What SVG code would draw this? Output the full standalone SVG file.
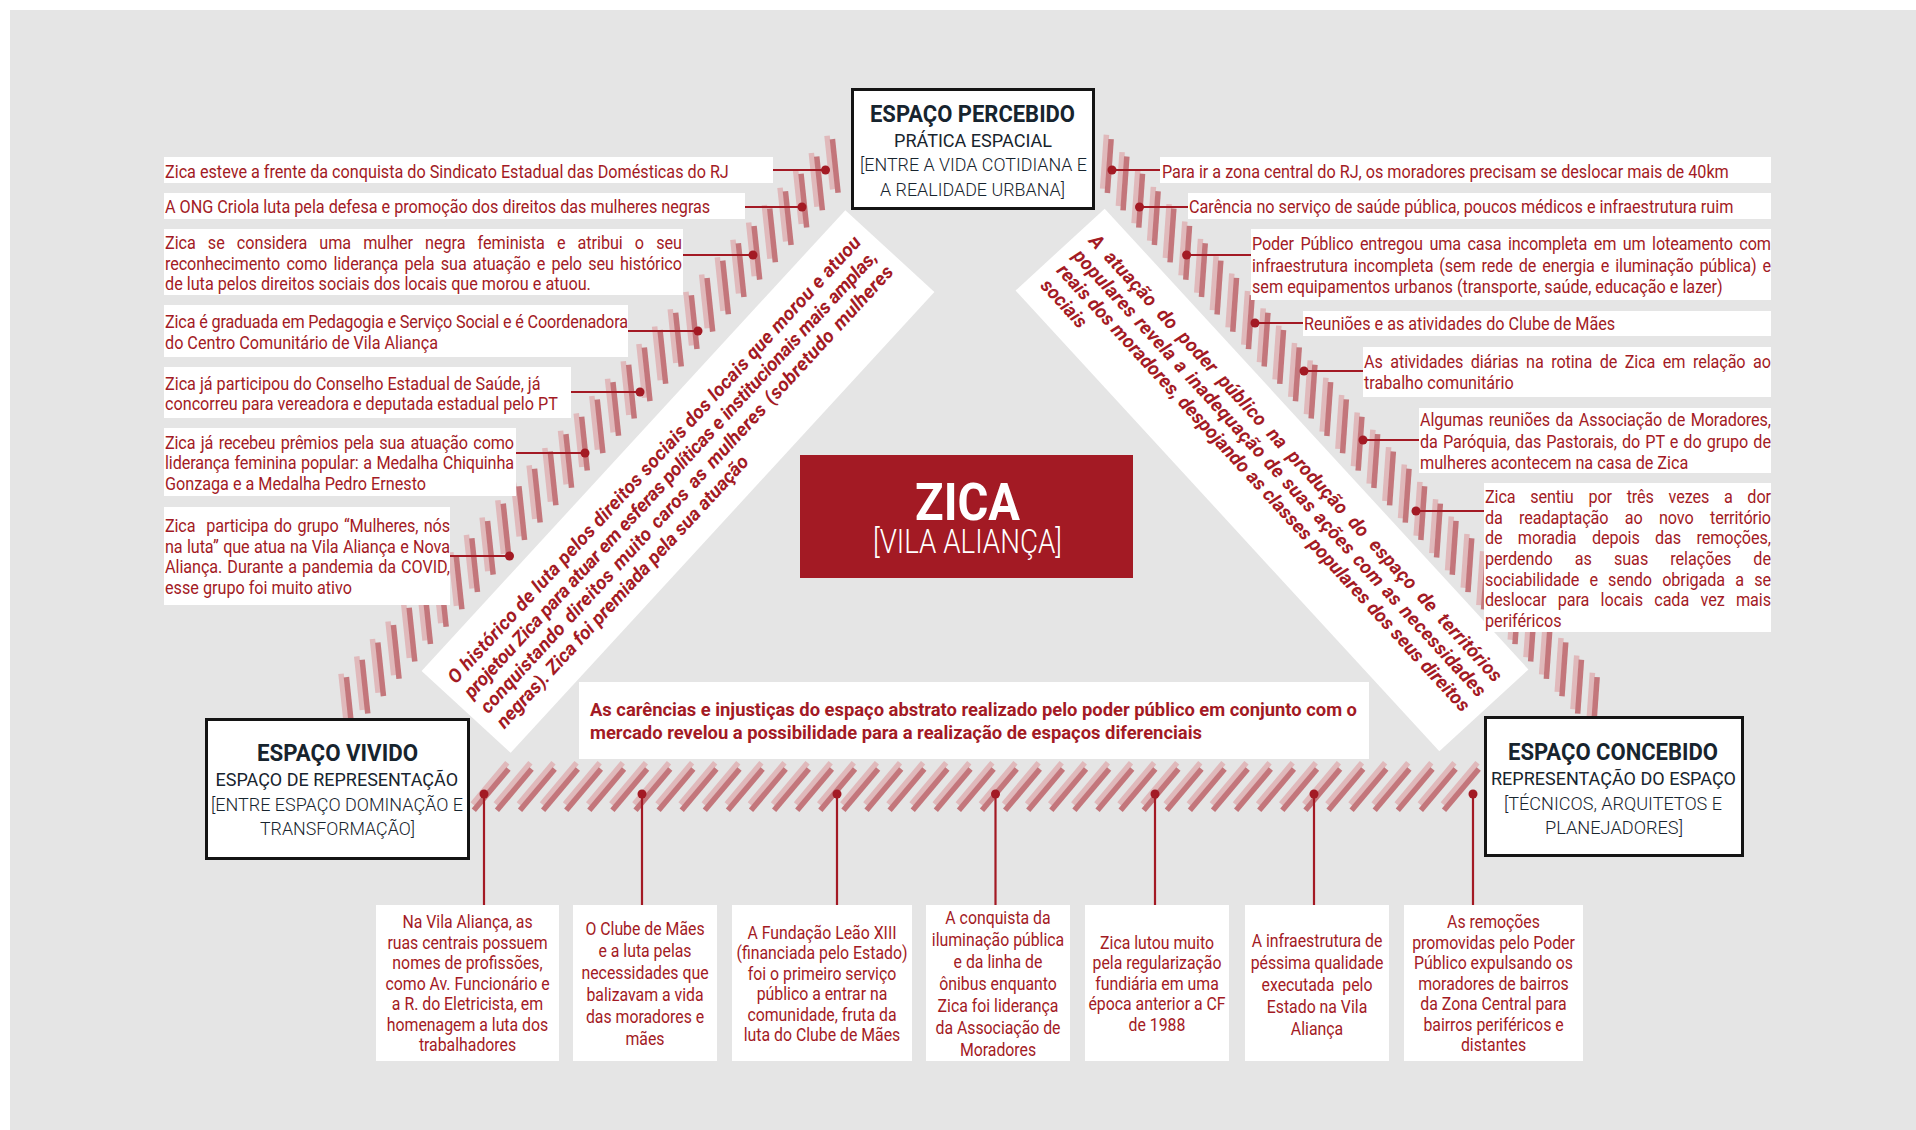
<svg xmlns="http://www.w3.org/2000/svg" width="1916" height="1130" viewBox="0 0 1916 1130">
<defs>
<style>
.t{font-family:Roboto,'Liberation Sans',sans-serif;font-size:18px;fill:#a31a24}
.c{text-anchor:middle}
.bi{font-family:Roboto,'Liberation Sans',sans-serif;font-size:19px;font-weight:700;font-style:italic;fill:#a31a24}
.ct{font-family:Roboto,'Liberation Sans',sans-serif;font-size:18px;font-weight:700;fill:#a31a24}
.hd{font-family:Roboto,'Liberation Sans',sans-serif;fill:#17242e}
.h1{font-size:24px;font-weight:700}
.h2{font-size:18px;font-weight:400}
.h3{font-size:18px;font-weight:300}
.card{fill:#fff}
.frame{fill:#fff;stroke:#141414;stroke-width:3}
.ln{stroke:#a31a24;stroke-width:2.2;fill:none}
.dot{fill:#a31a24}
.pre{white-space:pre}
</style>
<g id="bar"><rect x="-7.5" y="-31" width="5.5" height="54" fill="#e0b9bb"/><rect x="-2.5" y="-27" width="5.5" height="54" fill="#c3767b"/></g>
</defs>

<rect x="10" y="10" width="1906" height="1120" fill="#e5e5e5"/>

<!-- hatched bands -->
<g id="hatch-left">
<use href="#bar" transform="translate(835,166) rotate(-6)"/>
<use href="#bar" transform="translate(819.3,183.4) rotate(-6)"/>
<use href="#bar" transform="translate(803.6,200.7) rotate(-6)"/>
<use href="#bar" transform="translate(788,218.1) rotate(-6)"/>
<use href="#bar" transform="translate(772.3,235.4) rotate(-6)"/>
<use href="#bar" transform="translate(756.6,252.8) rotate(-6)"/>
<use href="#bar" transform="translate(740.9,270.1) rotate(-6)"/>
<use href="#bar" transform="translate(725.3,287.5) rotate(-6)"/>
<use href="#bar" transform="translate(709.6,304.8) rotate(-6)"/>
<use href="#bar" transform="translate(693.9,322.2) rotate(-6)"/>
<use href="#bar" transform="translate(678.2,339.6) rotate(-6)"/>
<use href="#bar" transform="translate(662.6,356.9) rotate(-6)"/>
<use href="#bar" transform="translate(646.9,374.3) rotate(-6)"/>
<use href="#bar" transform="translate(631.2,391.6) rotate(-6)"/>
<use href="#bar" transform="translate(615.5,409) rotate(-6)"/>
<use href="#bar" transform="translate(599.8,426.3) rotate(-6)"/>
<use href="#bar" transform="translate(584.2,443.7) rotate(-6)"/>
<use href="#bar" transform="translate(568.5,461) rotate(-6)"/>
<use href="#bar" transform="translate(552.8,478.4) rotate(-6)"/>
<use href="#bar" transform="translate(537.1,495.7) rotate(-6)"/>
<use href="#bar" transform="translate(521.5,513.1) rotate(-6)"/>
<use href="#bar" transform="translate(505.8,530.5) rotate(-6)"/>
<use href="#bar" transform="translate(490.1,547.8) rotate(-6)"/>
<use href="#bar" transform="translate(474.4,565.2) rotate(-6)"/>
<use href="#bar" transform="translate(458.8,582.5) rotate(-6)"/>
<use href="#bar" transform="translate(443.1,599.9) rotate(-6)"/>
<use href="#bar" transform="translate(427.4,617.2) rotate(-6)"/>
<use href="#bar" transform="translate(411.7,634.6) rotate(-6)"/>
<use href="#bar" transform="translate(396,651.9) rotate(-6)"/>
<use href="#bar" transform="translate(380.4,669.3) rotate(-6)"/>
<use href="#bar" transform="translate(364.7,686.7) rotate(-6)"/>
<use href="#bar" transform="translate(349,704) rotate(-6)"/>
</g>
<g id="hatch-right">
<use href="#bar" transform="translate(1109,166) rotate(4)"/>
<use href="#bar" transform="translate(1124.7,183.4) rotate(4)"/>
<use href="#bar" transform="translate(1140.4,200.7) rotate(4)"/>
<use href="#bar" transform="translate(1156,218.1) rotate(4)"/>
<use href="#bar" transform="translate(1171.7,235.4) rotate(4)"/>
<use href="#bar" transform="translate(1187.4,252.8) rotate(4)"/>
<use href="#bar" transform="translate(1203.1,270.1) rotate(4)"/>
<use href="#bar" transform="translate(1218.7,287.5) rotate(4)"/>
<use href="#bar" transform="translate(1234.4,304.8) rotate(4)"/>
<use href="#bar" transform="translate(1250.1,322.2) rotate(4)"/>
<use href="#bar" transform="translate(1265.8,339.6) rotate(4)"/>
<use href="#bar" transform="translate(1281.4,356.9) rotate(4)"/>
<use href="#bar" transform="translate(1297.1,374.3) rotate(4)"/>
<use href="#bar" transform="translate(1312.8,391.6) rotate(4)"/>
<use href="#bar" transform="translate(1328.5,409) rotate(4)"/>
<use href="#bar" transform="translate(1344.2,426.3) rotate(4)"/>
<use href="#bar" transform="translate(1359.8,443.7) rotate(4)"/>
<use href="#bar" transform="translate(1375.5,461) rotate(4)"/>
<use href="#bar" transform="translate(1391.2,478.4) rotate(4)"/>
<use href="#bar" transform="translate(1406.9,495.7) rotate(4)"/>
<use href="#bar" transform="translate(1422.5,513.1) rotate(4)"/>
<use href="#bar" transform="translate(1438.2,530.5) rotate(4)"/>
<use href="#bar" transform="translate(1453.9,547.8) rotate(4)"/>
<use href="#bar" transform="translate(1469.6,565.2) rotate(4)"/>
<use href="#bar" transform="translate(1485.2,582.5) rotate(4)"/>
<use href="#bar" transform="translate(1500.9,599.9) rotate(4)"/>
<use href="#bar" transform="translate(1516.6,617.2) rotate(4)"/>
<use href="#bar" transform="translate(1532.3,634.6) rotate(4)"/>
<use href="#bar" transform="translate(1548,651.9) rotate(4)"/>
<use href="#bar" transform="translate(1563.6,669.3) rotate(4)"/>
<use href="#bar" transform="translate(1579.3,686.7) rotate(4)"/>
<use href="#bar" transform="translate(1595,704) rotate(4)"/>
</g>
<g id="hatch-bottom">
<use href="#bar" transform="translate(491,789.5) rotate(40)"/>
<use href="#bar" transform="translate(514.1,789.5) rotate(40)"/>
<use href="#bar" transform="translate(537.2,789.5) rotate(40)"/>
<use href="#bar" transform="translate(560.3,789.5) rotate(40)"/>
<use href="#bar" transform="translate(583.4,789.5) rotate(40)"/>
<use href="#bar" transform="translate(606.5,789.5) rotate(40)"/>
<use href="#bar" transform="translate(629.6,789.5) rotate(40)"/>
<use href="#bar" transform="translate(652.7,789.5) rotate(40)"/>
<use href="#bar" transform="translate(675.8,789.5) rotate(40)"/>
<use href="#bar" transform="translate(698.9,789.5) rotate(40)"/>
<use href="#bar" transform="translate(722,789.5) rotate(40)"/>
<use href="#bar" transform="translate(745.1,789.5) rotate(40)"/>
<use href="#bar" transform="translate(768.2,789.5) rotate(40)"/>
<use href="#bar" transform="translate(791.3,789.5) rotate(40)"/>
<use href="#bar" transform="translate(814.4,789.5) rotate(40)"/>
<use href="#bar" transform="translate(837.5,789.5) rotate(40)"/>
<use href="#bar" transform="translate(860.6,789.5) rotate(40)"/>
<use href="#bar" transform="translate(883.7,789.5) rotate(40)"/>
<use href="#bar" transform="translate(906.8,789.5) rotate(40)"/>
<use href="#bar" transform="translate(929.9,789.5) rotate(40)"/>
<use href="#bar" transform="translate(953,789.5) rotate(40)"/>
<use href="#bar" transform="translate(976.1,789.5) rotate(40)"/>
<use href="#bar" transform="translate(999.2,789.5) rotate(40)"/>
<use href="#bar" transform="translate(1022.3,789.5) rotate(40)"/>
<use href="#bar" transform="translate(1045.4,789.5) rotate(40)"/>
<use href="#bar" transform="translate(1068.5,789.5) rotate(40)"/>
<use href="#bar" transform="translate(1091.6,789.5) rotate(40)"/>
<use href="#bar" transform="translate(1114.7,789.5) rotate(40)"/>
<use href="#bar" transform="translate(1137.8,789.5) rotate(40)"/>
<use href="#bar" transform="translate(1160.9,789.5) rotate(40)"/>
<use href="#bar" transform="translate(1184,789.5) rotate(40)"/>
<use href="#bar" transform="translate(1207.1,789.5) rotate(40)"/>
<use href="#bar" transform="translate(1230.2,789.5) rotate(40)"/>
<use href="#bar" transform="translate(1253.3,789.5) rotate(40)"/>
<use href="#bar" transform="translate(1276.4,789.5) rotate(40)"/>
<use href="#bar" transform="translate(1299.5,789.5) rotate(40)"/>
<use href="#bar" transform="translate(1322.6,789.5) rotate(40)"/>
<use href="#bar" transform="translate(1345.7,789.5) rotate(40)"/>
<use href="#bar" transform="translate(1368.8,789.5) rotate(40)"/>
<use href="#bar" transform="translate(1391.9,789.5) rotate(40)"/>
<use href="#bar" transform="translate(1415,789.5) rotate(40)"/>
<use href="#bar" transform="translate(1438.1,789.5) rotate(40)"/>
<use href="#bar" transform="translate(1461.2,789.5) rotate(40)"/>
</g>

<!-- diagonal statements -->
<g id="band-left" transform="translate(678,481.5) rotate(-47.4)">
<rect x="-313" y="-60.5" width="626" height="121" fill="#fff"/>
<text class="bi" x="-300" y="-26" textLength="600" lengthAdjust="spacing">O histórico de luta pelos direitos sociais dos locais que morou e atuou</text>
<text class="bi" x="-300" y="-4" textLength="600" lengthAdjust="spacing">projetou Zica para atuar em esferas políticas e institucionais mais amplas,</text>
<text class="bi" x="-300" y="18" textLength="600" lengthAdjust="spacing" style="word-spacing:2.5px">conquistando direitos muito caros as mulheres (sobretudo mulheres</text>
<text class="bi" x="-300" y="40">negras). Zica foi premiada pela sua atuação</text>
</g>
<g id="band-right" transform="translate(1272,480) rotate(47.4)">
<rect x="-313" y="-60.5" width="626" height="121" fill="#fff"/>
<text class="bi" x="-300" y="-26" textLength="600" lengthAdjust="spacing" style="word-spacing:4.8px">A atuação do poder público na produção do espaço de territórios</text>
<text class="bi" x="-300" y="-4" textLength="600" lengthAdjust="spacing" style="word-spacing:1.5px">populares revela a inadequação de suas ações com as necessidades</text>
<text class="bi" x="-300" y="18" textLength="600" lengthAdjust="spacing">reais dos moradores, despojando as classes populares dos seus direitos</text>
<text class="bi" x="-300" y="40">sociais</text>
</g>

<!-- centre -->
<g id="zica">
<rect x="800" y="455" width="333" height="123" fill="#a31a24"/>
<text x="915" y="520" textLength="105" lengthAdjust="spacingAndGlyphs" style="font-family:Roboto,'Liberation Sans',sans-serif;font-size:52px;font-weight:700;fill:#fff">ZICA</text>
<text x="873" y="553" textLength="189" lengthAdjust="spacingAndGlyphs" style="font-family:Roboto,'Liberation Sans',sans-serif;font-size:33px;font-weight:300;fill:#fff">[VILA ALIANÇA]</text>
</g>
<g id="abstract-space">
<rect class="card" x="579" y="682" width="790" height="77"/>
<text class="ct" x="590" y="716" textLength="767" lengthAdjust="spacingAndGlyphs">As carências e injustiças do espaço abstrato realizado pelo poder público em conjunto com o</text>
<text class="ct" x="590" y="739" textLength="612" lengthAdjust="spacingAndGlyphs">mercado revelou a possibilidade para a realização de espaços diferenciais</text>
</g>

<!-- corner boxes -->
<g id="percebido">
<rect class="frame" x="852.5" y="89.5" width="241" height="119"/>
<text class="hd h1" x="870" y="121.5" textLength="205" lengthAdjust="spacingAndGlyphs">ESPAÇO PERCEBIDO</text>
<text class="hd h2" x="894" y="146.5" textLength="158" lengthAdjust="spacingAndGlyphs">PRÁTICA ESPACIAL</text>
<text class="hd h3" x="860" y="171" textLength="227" lengthAdjust="spacingAndGlyphs">[ENTRE A VIDA COTIDIANA E</text>
<text class="hd h3" x="880" y="195.5" textLength="185" lengthAdjust="spacingAndGlyphs">A REALIDADE URBANA]</text>
</g>
<g id="vivido">
<rect class="frame" x="206.5" y="719.5" width="262" height="139"/>
<text class="hd h1" x="257" y="761" textLength="161" lengthAdjust="spacingAndGlyphs">ESPAÇO VIVIDO</text>
<text class="hd h2" x="215.5" y="786" textLength="242.5" lengthAdjust="spacingAndGlyphs">ESPAÇO DE REPRESENTAÇÃO</text>
<text class="hd h3" x="211" y="811" textLength="252" lengthAdjust="spacingAndGlyphs">[ENTRE ESPAÇO DOMINAÇÃO E</text>
<text class="hd h3" x="260" y="835" textLength="155" lengthAdjust="spacingAndGlyphs">TRANSFORMAÇÃO]</text>
</g>
<g id="concebido">
<rect class="frame" x="1485.5" y="717.5" width="257" height="138"/>
<text class="hd h1" x="1508" y="760" textLength="210" lengthAdjust="spacingAndGlyphs">ESPAÇO CONCEBIDO</text>
<text class="hd h2" x="1491" y="785" textLength="245" lengthAdjust="spacingAndGlyphs">REPRESENTAÇÃO DO ESPAÇO</text>
<text class="hd h3" x="1504" y="810" textLength="218" lengthAdjust="spacingAndGlyphs">[TÉCNICOS, ARQUITETOS E</text>
<text class="hd h3" x="1545" y="834" textLength="138" lengthAdjust="spacingAndGlyphs">PLANEJADORES]</text>
</g>

<!-- left notes -->
<g id="note-l1"><rect class="card" x="164" y="157" width="609" height="26"/>
<text class="t" transform="translate(165,177.5) scale(.9,1)">Zica esteve a frente da conquista do Sindicato Estadual das Domésticas do RJ</text></g>
<g id="note-l2"><rect class="card" x="164" y="193" width="581" height="26"/>
<text class="t" transform="translate(165,213) scale(.9,1)">A ONG Criola luta pela defesa e promoção dos direitos das mulheres negras</text></g>
<g id="note-l3"><rect class="card" x="164" y="229" width="519" height="66"/>
<text class="t" transform="translate(165,248.5) scale(.9,1)" textLength="574.4" lengthAdjust="spacing" style="word-spacing:9px">Zica se considera uma mulher negra feminista e atribui o seu</text>
<text class="t" transform="translate(165,269.5) scale(.9,1)" textLength="574.4" lengthAdjust="spacing" style="word-spacing:2.6px">reconhecimento como liderança pela sua atuação e pelo seu histórico</text>
<text class="t" transform="translate(165,289.5) scale(.9,1)">de luta pelos direitos sociais dos locais que morou e atuou.</text></g>
<g id="note-l4"><rect class="card" x="164" y="305" width="464" height="52"/>
<text class="t" transform="translate(165,327.5) scale(.9,1)" textLength="514.4" lengthAdjust="spacing">Zica é graduada em Pedagogia e Serviço Social e é Coordenadora</text>
<text class="t" transform="translate(165,348.5) scale(.9,1)">do Centro Comunitário de Vila Aliança</text></g>
<g id="note-l5"><rect class="card" x="164" y="367" width="407" height="51"/>
<text class="t" transform="translate(165,390) scale(.9,1)">Zica já participou do Conselho Estadual de Saúde, já</text>
<text class="t" transform="translate(165,410) scale(.9,1)">concorreu para vereadora e deputada estadual pelo PT</text></g>
<g id="note-l6"><rect class="card" x="164" y="428" width="352" height="68"/>
<text class="t" transform="translate(165,448.5) scale(.9,1)" textLength="387.8" lengthAdjust="spacing" style="word-spacing:1.8px">Zica já recebeu prêmios pela sua atuação como</text>
<text class="t" transform="translate(165,468.5) scale(.9,1)" textLength="387.8" lengthAdjust="spacing" style="word-spacing:0.8px">liderança feminina popular: a Medalha Chiquinha</text>
<text class="t" transform="translate(165,489.5) scale(.9,1)">Gonzaga e a Medalha Pedro Ernesto</text></g>
<g id="note-l7"><rect class="card" x="164" y="507" width="286" height="98"/>
<text class="t pre" transform="translate(165,531.5) scale(.9,1)" textLength="316.7" lengthAdjust="spacing" style="word-spacing:1.8px">Zica  participa do grupo “Mulheres, nós</text>
<text class="t" transform="translate(165,552.5) scale(.9,1)" textLength="316.7" lengthAdjust="spacing" style="word-spacing:0.5px">na luta” que atua na Vila Aliança e Nova</text>
<text class="t" transform="translate(165,572.5) scale(.9,1)" textLength="316.7" lengthAdjust="spacing" style="word-spacing:1.2px">Aliança. Durante a pandemia da COVID,</text>
<text class="t" transform="translate(165,593.5) scale(.9,1)">esse grupo foi muito ativo</text></g>

<!-- right notes -->
<g id="note-r1"><rect class="card" x="1160" y="157" width="611" height="26"/>
<text class="t" transform="translate(1162,177.5) scale(.9,1)">Para ir a zona central do RJ, os moradores precisam se deslocar mais de 40km</text></g>
<g id="note-r2"><rect class="card" x="1188" y="193" width="583" height="26"/>
<text class="t" transform="translate(1189,213) scale(.9,1)">Carência no serviço de saúde pública, poucos médicos e infraestrutura ruim</text></g>
<g id="note-r3"><rect class="card" x="1251" y="229" width="520" height="71"/>
<text class="t" transform="translate(1252,249.5) scale(.9,1)" textLength="576.7" lengthAdjust="spacing" style="word-spacing:2.9px">Poder Público entregou uma casa incompleta em um loteamento com</text>
<text class="t" transform="translate(1252,271.5) scale(.9,1)" textLength="576.7" lengthAdjust="spacing" style="word-spacing:2.3px">infraestrutura incompleta (sem rede de energia e iluminação pública) e</text>
<text class="t" transform="translate(1252,292.5) scale(.9,1)">sem equipamentos urbanos (transporte, saúde, educação e lazer)</text></g>
<g id="note-r4"><rect class="card" x="1303" y="311" width="468" height="25"/>
<text class="t" transform="translate(1304,329.5) scale(.9,1)">Reuniões e as atividades do Clube de Mães</text></g>
<g id="note-r5"><rect class="card" x="1363" y="347" width="408" height="50"/>
<text class="t" transform="translate(1364,367.5) scale(.9,1)" textLength="452.2" lengthAdjust="spacing" style="word-spacing:4px">As atividades diárias na rotina de Zica em relação ao</text>
<text class="t" transform="translate(1364,389) scale(.9,1)">trabalho comunitário</text></g>
<g id="note-r6"><rect class="card" x="1419" y="408" width="352" height="65"/>
<text class="t" transform="translate(1420,425.5) scale(.9,1)" textLength="390" lengthAdjust="spacing" style="word-spacing:1.8px">Algumas reuniões da Associação de Moradores,</text>
<text class="t" transform="translate(1420,447.5) scale(.9,1)" textLength="390" lengthAdjust="spacing" style="word-spacing:1.2px">da Paróquia, das Pastorais, do PT e do grupo de</text>
<text class="t" transform="translate(1420,468.5) scale(.9,1)">mulheres acontecem na casa de Zica</text></g>
<g id="note-r7"><rect class="card" x="1484" y="483" width="287" height="149"/>
<text class="t" transform="translate(1485,502.5) scale(.9,1)" textLength="317.8" lengthAdjust="spacing" style="word-spacing:12px">Zica sentiu por três vezes a dor</text>
<text class="t" transform="translate(1485,523.5) scale(.9,1)" textLength="317.8" lengthAdjust="spacing" style="word-spacing:13.8px">da readaptação ao novo território</text>
<text class="t" transform="translate(1485,543.5) scale(.9,1)" textLength="317.8" lengthAdjust="spacing" style="word-spacing:12.6px">de moradia depois das remoções,</text>
<text class="t" transform="translate(1485,564.5) scale(.9,1)" textLength="317.8" lengthAdjust="spacing" style="word-spacing:20px">perdendo as suas relações de</text>
<text class="t" transform="translate(1485,585.5) scale(.9,1)" textLength="317.8" lengthAdjust="spacing" style="word-spacing:7px">sociabilidade e sendo obrigada a se</text>
<text class="t" transform="translate(1485,605.5) scale(.9,1)" textLength="317.8" lengthAdjust="spacing" style="word-spacing:8.2px">deslocar para locais cada vez mais</text>
<text class="t" transform="translate(1485,626.5) scale(.9,1)">periféricos</text></g>

<!-- bottom notes -->
<g id="note-b1"><rect class="card" x="376" y="905" width="183" height="156"/>
<text class="t c" transform="translate(467.5,0) scale(.88,1)"><tspan x="0" y="928.5">Na Vila Aliança, as</tspan><tspan x="0" y="949">ruas centrais possuem</tspan><tspan x="0" y="969.5">nomes de profissões,</tspan><tspan x="0" y="990">como Av. Funcionário e</tspan><tspan x="0" y="1010.5">a R. do Eletricista, em</tspan><tspan x="0" y="1031">homenagem a luta dos</tspan><tspan x="0" y="1051.5">trabalhadores</tspan></text></g>
<g id="note-b2"><rect class="card" x="573" y="905" width="144" height="156"/>
<text class="t c" transform="translate(645,0) scale(.88,1)"><tspan x="0" y="935">O Clube de Mães</tspan><tspan x="0" y="957">e a luta pelas</tspan><tspan x="0" y="979">necessidades que</tspan><tspan x="0" y="1001">balizavam a vida</tspan><tspan x="0" y="1023">das moradores e</tspan><tspan x="0" y="1045">mães</tspan></text></g>
<g id="note-b3"><rect class="card" x="732" y="905" width="180" height="156"/>
<text class="t c" transform="translate(822,0) scale(.88,1)"><tspan x="0" y="939">A Fundação Leão XIII</tspan><tspan x="0" y="959.5">(financiada pelo Estado)</tspan><tspan x="0" y="980">foi o primeiro serviço</tspan><tspan x="0" y="1000.5">público a entrar na</tspan><tspan x="0" y="1021">comunidade, fruta da</tspan><tspan x="0" y="1041.5">luta do Clube de Mães</tspan></text></g>
<g id="note-b4"><rect class="card" x="926" y="905" width="144" height="156"/>
<text class="t c" transform="translate(998,0) scale(.88,1)"><tspan x="0" y="924">A conquista da</tspan><tspan x="0" y="946">iluminação pública</tspan><tspan x="0" y="968">e da linha de</tspan><tspan x="0" y="990">ônibus enquanto</tspan><tspan x="0" y="1012">Zica foi liderança</tspan><tspan x="0" y="1034">da Associação de</tspan><tspan x="0" y="1056">Moradores</tspan></text></g>
<g id="note-b5"><rect class="card" x="1085" y="905" width="144" height="156"/>
<text class="t c" transform="translate(1157,0) scale(.88,1)"><tspan x="0" y="949">Zica lutou muito</tspan><tspan x="0" y="969.5">pela regularização</tspan><tspan x="0" y="990">fundiária em uma</tspan><tspan x="0" y="1010.5">época anterior a CF</tspan><tspan x="0" y="1031">de 1988</tspan></text></g>
<g id="note-b6"><rect class="card" x="1245" y="905" width="144" height="156"/>
<text class="t c pre" transform="translate(1317,0) scale(.88,1)"><tspan x="0" y="947">A infraestrutura de</tspan><tspan x="0" y="969">péssima qualidade</tspan><tspan x="0" y="991">executada  pelo</tspan><tspan x="0" y="1013">Estado na Vila</tspan><tspan x="0" y="1035">Aliança</tspan></text></g>
<g id="note-b7"><rect class="card" x="1404" y="905" width="179" height="156"/>
<text class="t c" transform="translate(1493.5,0) scale(.88,1)"><tspan x="0" y="928.5">As remoções</tspan><tspan x="0" y="949">promovidas pelo Poder</tspan><tspan x="0" y="969.5">Público expulsando os</tspan><tspan x="0" y="990">moradores de bairros</tspan><tspan x="0" y="1010.5">da Zona Central para</tspan><tspan x="0" y="1031">bairros periféricos e</tspan><tspan x="0" y="1051.5">distantes</tspan></text></g>

<!-- connectors -->
<g id="connectors">
<path class="ln" d="M773 170H825.5M745 207H802M683 255H753M628 331H698M571 392H640M516 453H585M450 556H509.5"/>
<path class="ln" d="M1112 170H1160M1139.5 207H1188M1186.6 255H1251M1255 323H1303M1304 371H1363M1363 440H1419M1416 511H1484"/>
<path class="ln" d="M484 794V905M642 794V905M837 794V905M995.5 794V905M1155 794V905M1314 794V905M1473 794V905"/>
<circle class="dot" cx="825.5" cy="170" r="4.5"/><circle class="dot" cx="802" cy="207" r="4.5"/><circle class="dot" cx="753" cy="255" r="4.5"/><circle class="dot" cx="698" cy="331" r="4.5"/><circle class="dot" cx="640" cy="392" r="4.5"/><circle class="dot" cx="585" cy="453" r="4.5"/><circle class="dot" cx="509.5" cy="556" r="4.5"/>
<circle class="dot" cx="1112" cy="170" r="4.5"/><circle class="dot" cx="1139.5" cy="207" r="4.5"/><circle class="dot" cx="1186.6" cy="255" r="4.5"/><circle class="dot" cx="1255" cy="323" r="4.5"/><circle class="dot" cx="1304" cy="371" r="4.5"/><circle class="dot" cx="1363" cy="440" r="4.5"/><circle class="dot" cx="1416" cy="511" r="4.5"/>
<circle class="dot" cx="484" cy="794" r="4.5"/><circle class="dot" cx="642" cy="794" r="4.5"/><circle class="dot" cx="837" cy="794" r="4.5"/><circle class="dot" cx="995.5" cy="794" r="4.5"/><circle class="dot" cx="1155" cy="794" r="4.5"/><circle class="dot" cx="1314" cy="794" r="4.5"/><circle class="dot" cx="1473" cy="794" r="4.5"/>
</g>
</svg>
